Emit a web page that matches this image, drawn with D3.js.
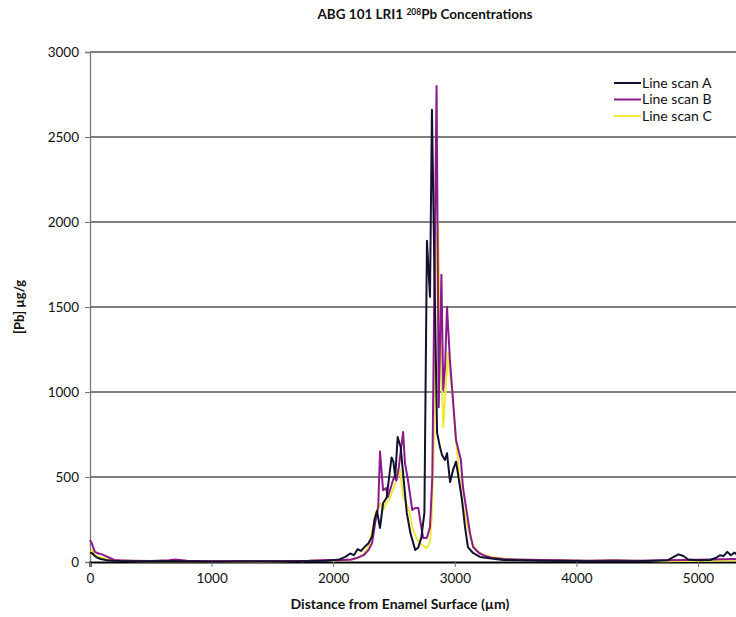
<!DOCTYPE html>
<html>
<head>
<meta charset="utf-8">
<script src="https://cdn.jsdelivr.net/npm/d3@7"></script>
<style>
  html, body { margin: 0; padding: 0; background: #fff; overflow: hidden; }
  text { font-family: Lato, "Open Sans", sans-serif; fill: #111; }
</style>
</head>
<body>
<script>
'use strict';

// distance (µm) and [Pb] (µg/g), one array per line scan
const scanA = [
  [0,55],[20,50],[40,35],[60,25],[90,18],[130,12],[180,8],[250,6],[350,5],[500,4],[650,6],[800,4],
  [1000,3],[1200,3],[1400,4],[1600,3],[1800,5],[1950,8],[2050,15],[2100,30],[2140,50],[2170,40],
  [2200,75],[2230,65],[2260,90],[2290,110],[2320,150],[2340,250],[2360,300],[2385,200],[2410,345],
  [2440,380],[2460,500],[2480,615],[2495,590],[2510,500],[2530,735],[2555,675],[2580,480],[2605,290],
  [2635,170],[2675,70],[2700,85],[2725,145],[2750,290],[2771,1890],[2796,1560],[2812,2660],[2837,1500],
  [2854,760],[2878,676],[2895,630],[2919,600],[2936,640],[2961,470],[2985,540],[3010,590],[3026,520],
  [3059,365],[3084,206],[3108,88],[3150,53],[3207,30],[3300,20],[3400,12],[3550,10],[3700,8],[3900,6],
  [4100,5],[4300,4],[4500,5],[4650,8],[4750,10],[4800,30],[4840,45],[4880,35],[4920,15],[5000,10],
  [5100,12],[5150,25],[5180,40],[5210,35],[5240,60],[5270,40],[5300,55],[5350,30]
];
const scanB = [
  [0,130],[15,110],[40,60],[70,50],[100,45],[130,35],[160,25],[200,12],[250,10],[350,8],[500,6],
  [650,10],[700,15],[800,8],[1000,5],[1200,6],[1400,4],[1600,6],[1800,8],[1950,12],[2050,10],
  [2150,15],[2200,25],[2250,40],[2290,70],[2320,112],[2345,230],[2370,323],[2385,650],[2410,423],
  [2435,435],[2450,382],[2475,441],[2500,500],[2520,480],[2540,559],[2575,765],[2590,582],[2615,482],
  [2650,306],[2675,318],[2700,318],[2715,247],[2740,141],[2770,141],[2796,206],[2815,500],[2835,1800],
  [2850,2800],[2868,910],[2890,1690],[2905,1012],[2920,1150],[2936,1500],[2960,1188],[2985,953],
  [3010,717],[3050,600],[3067,441],[3092,323],[3125,170],[3150,88],[3200,53],[3250,35],[3300,25],
  [3400,18],[3500,15],[3700,12],[3900,10],[4100,8],[4300,10],[4500,8],[4700,10],[4900,12],[5100,15],
  [5300,18],[5400,16]
];
const scanC = [
  [0,45],[20,70],[40,40],[70,30],[100,25],[150,15],[200,10],[300,6],[450,5],[600,4],[800,5],[1000,4],
  [1200,3],[1400,3],[1600,4],[1700,8],[1750,5],[1850,10],[1900,6],[1950,12],[2000,8],[2050,12],
  [2100,10],[2150,15],[2200,25],[2250,45],[2290,90],[2320,180],[2350,288],[2385,347],[2410,306],
  [2435,347],[2460,365],[2490,423],[2520,482],[2550,541],[2575,382],[2600,347],[2630,288],[2650,206],
  [2690,130],[2730,100],[2770,82],[2795,112],[2810,265],[2830,759],[2845,1820],[2862,2000],[2880,1400],
  [2905,794],[2919,953],[2945,1229],[2960,1112],[2985,953],[3010,717],[3035,523],[3060,365],[3092,247],
  [3133,130],[3175,70],[3210,50],[3300,30],[3400,20],[3500,15],[3700,12],[3900,10],[4100,8],[4300,10],
  [4500,8],[4700,5],[4900,6],[5100,8],[5300,10],[5400,9]
];

const seriesNames = ["Line scan A", "Line scan B", "Line scan C"];
const seriesColors = ["#12122e", "#8c1a8c", "#eeea3a"];
const xTicks = [0, 1000, 2000, 3000, 4000, 5000];
const yTicks = [0, 500, 1000, 1500, 2000, 2500, 3000];

const W = 736, H = 617;
const m = { left: 90, top: 52, bottom: 562 };

const svg = d3.select('body').append('svg')
  .attr('width', W)
  .attr('height', H);

// x axis runs past the right edge of the picture (it is cropped there)
const x = d3.scaleLinear().domain([0, 6000]).range([m.left, m.left + 6 * 121.6]);
const y = d3.scaleLinear().domain([0, 3000]).range([m.bottom, m.top]);

// horizontal gridlines
svg.append('g')
  .selectAll('line')
  .data(yTicks.filter(d => d > 0))
  .enter().append('line')
  .attr('x1', m.left).attr('x2', W)
  .attr('y1', d => y(d)).attr('y2', d => y(d))
  .attr('stroke', '#000')
  .attr('stroke-width', 1.2);

// y axis
const yAxis = svg.append('g')
  .attr('transform', 'translate(' + m.left + ',0)')
  .call(d3.axisLeft(y).tickValues(yTicks).tickSize(5).tickPadding(6).tickFormat(d3.format('d')));
yAxis.select('.domain').attr('stroke', '#777').attr('stroke-width', 1.3);
yAxis.selectAll('.tick line').attr('stroke', '#777');
yAxis.selectAll('text').style('font-size', '13.5px').attr('fill', '#111');

// x axis
const xAxis = svg.append('g')
  .attr('transform', 'translate(0,' + m.bottom + ')')
  .call(d3.axisBottom(x).tickValues(xTicks).tickSize(5).tickPadding(6).tickFormat(d3.format('d')));
xAxis.select('.domain').attr('stroke', '#000').attr('stroke-width', 2.2);
xAxis.selectAll('.tick line').attr('stroke', '#777');
xAxis.selectAll('text').style('font-size', '13.5px').attr('fill', '#111');

// the line scans, yellow first so it sits underneath
const line = d3.line()
  .x(d => x(d[0]))
  .y(d => y(d[1]));

const allScans = [scanA, scanB, scanC];
[2, 1, 0].forEach(i => {
  svg.append('path')
    .datum(allScans[i])
    .attr('d', line)
    .attr('fill', 'none')
    .attr('stroke', seriesColors[i])
    .attr('stroke-width', 2)
    .attr('stroke-linejoin', 'round');
});

// title with superscript mass number
const title = svg.append('text')
  .attr('x', 425)
  .attr('y', 19)
  .attr('text-anchor', 'middle')
  .style('font-size', '13.5px')
  .style('font-weight', 'bold');
title.append('tspan').text('ABG 101 LRI1 ');
title.append('tspan').text('208').attr('dy', -4).style('font-size', '8.5px');
title.append('tspan').text('Pb  Concentrations').attr('dy', 4);

// axis titles
svg.append('text')
  .attr('x', 400)
  .attr('y', 609)
  .attr('text-anchor', 'middle')
  .style('font-size', '14px')
  .style('font-weight', 'bold')
  .text('Distance from Enamel Surface (µm)');

svg.append('text')
  .attr('transform', 'translate(24,307)rotate(-90)')
  .attr('text-anchor', 'middle')
  .style('font-size', '13px')
  .style('font-weight', 'bold')
  .text('[Pb] µg/g');

// legend
const legend = svg.append('g')
  .selectAll('g')
  .data(seriesNames)
  .enter().append('g')
  .attr('transform', (d, i) => 'translate(614,' + (83 + i * 16.5) + ')');
legend.append('line')
  .attr('x1', 0).attr('x2', 27)
  .attr('stroke', (d, i) => seriesColors[i])
  .attr('stroke-width', 2);
legend.append('text')
  .attr('x', 28)
  .attr('dy', '0.35em')
  .style('font-size', '14px')
  .text(d => d);
</script>
</body>
</html>
